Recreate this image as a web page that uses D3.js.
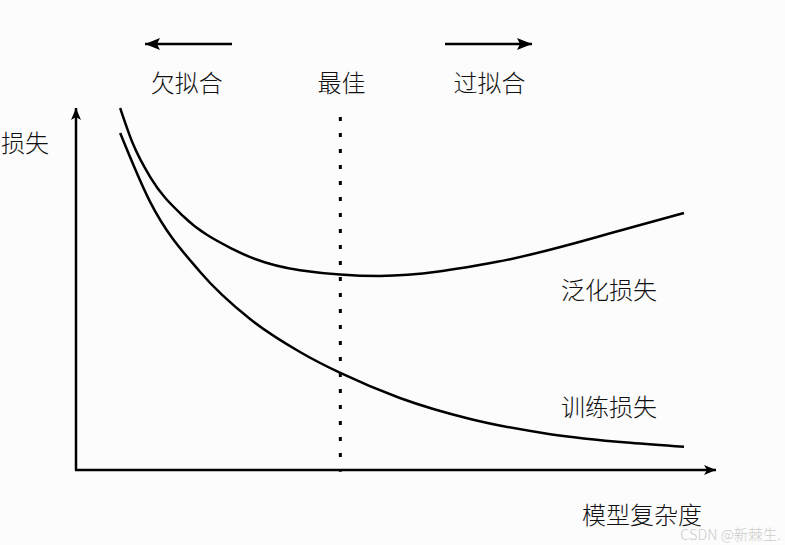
<html>
<head>
<script src="https://d3js.org/d3.v7.min.js"></script>
<style>
    body { margin: 0; background-color: #fcfcfc; }
    svg { display: block; }
</style>
</head>
<body>
<svg width="785" height="545"></svg>
<script>
// model complexity (0-100) vs loss (0-100)
var genX = [6.9, 8.9, 11.6, 16.7, 24.5, 35.0, 47.5, 65.8, 86.6, 95.0];
var genY = [100.0, 90.1, 80.9, 70.2, 61.0, 55.2, 53.6, 57.5, 66.9, 71.0];
var trainX = [6.9, 11.6, 19.4, 27.2, 35.0, 41.3, 50.6, 61.6, 74.1, 86.6, 95.0];
var trainY = [93.1, 74.0, 54.7, 41.7, 32.6, 26.8, 19.9, 14.1, 9.9, 7.5, 6.4];
var bestX = 41.3;
var topLabels = ["欠拟合", "最佳", "过拟合"];
var topLabelX = [17.3, 41.5, 64.6];

var svg = d3.select("svg");
var font = "'Noto Sans CJK SC', sans-serif";

var x = d3.scaleLinear().domain([0, 100]).range([76, 716]);
var y = d3.scaleLinear().domain([0, 100]).range([470, 108]);

var defs = svg.append("defs");
function arrowMarker(id, len, wid) {
    defs.append("marker")
        .attr("id", id)
        .attr("markerUnits", "userSpaceOnUse")
        .attr("viewBox", "0 0 " + len + " " + wid)
        .attr("refX", len).attr("refY", wid / 2)
        .attr("markerWidth", len).attr("markerHeight", wid)
        .attr("orient", "auto")
        .append("path")
        .attr("d", "M0,0L" + len + "," + (wid / 2) + "L0," + wid + "L3," + (wid / 2) + "Z")
        .attr("fill", "#000");
}
arrowMarker("axisArrow", 12, 10);
arrowMarker("bigArrow", 15, 12);

// axes
svg.append("line")
    .attr("x1", x(0)).attr("y1", y(0)).attr("x2", x(0)).attr("y2", y(100))
    .attr("stroke", "#000").attr("stroke-width", 2.5)
    .attr("marker-end", "url(#axisArrow)");
svg.append("line")
    .attr("x1", x(0) - 1).attr("y1", y(0)).attr("x2", x(100)).attr("y2", y(0))
    .attr("stroke", "#000").attr("stroke-width", 2.5)
    .attr("marker-end", "url(#axisArrow)");

// dotted "best" line
svg.append("line")
    .attr("x1", x(bestX)).attr("y1", y(97.5)).attr("x2", x(bestX)).attr("y2", y(-0.5))
    .attr("stroke", "#000").attr("stroke-width", 3)
    .attr("stroke-dasharray", "4,12");

var line = d3.line()
    .x(function(d) { return x(d[0]); })
    .y(function(d) { return y(d[1]); })
    .curve(d3.curveMonotoneX);

svg.append("path")
    .datum(d3.zip(genX, genY))
    .attr("fill", "none").attr("stroke", "#000").attr("stroke-width", 2.5)
    .attr("d", line);
svg.append("path")
    .datum(d3.zip(trainX, trainY))
    .attr("fill", "none").attr("stroke", "#000").attr("stroke-width", 2.5)
    .attr("d", line);

// direction arrows
svg.append("line")
    .attr("x1", 232).attr("y1", 44).attr("x2", 145).attr("y2", 44)
    .attr("stroke", "#000").attr("stroke-width", 2.5)
    .attr("marker-end", "url(#bigArrow)");
svg.append("line")
    .attr("x1", 445).attr("y1", 44).attr("x2", 532).attr("y2", 44)
    .attr("stroke", "#000").attr("stroke-width", 2.5)
    .attr("marker-end", "url(#bigArrow)");

// labels
svg.selectAll(".top").data(topLabels).enter().append("text")
    .attr("x", function(d, i) { return x(topLabelX[i]); })
    .attr("y", 81)
    .attr("text-anchor", "middle").attr("dominant-baseline", "central")
    .style("font", "300 24px " + font).attr("fill", "#111")
    .text(function(d) { return d; });

function label(txt, px, py, anchor) {
    svg.append("text")
        .attr("x", px).attr("y", py)
        .attr("text-anchor", anchor).attr("dominant-baseline", "central")
        .style("font", "300 24px " + font).attr("fill", "#111")
        .text(txt);
}
label("损失", 1, 141, "start");
label("泛化损失", 561, 288, "start");
label("训练损失", 561, 405, "start");
label("模型复杂度", 582, 513, "start");

svg.append("text")
    .attr("x", 781).attr("y", 533)
    .attr("text-anchor", "end").attr("dominant-baseline", "central")
    .style("font", "300 14.5px " + font).attr("fill", "#cccccc")
    .text("CSDN @新棘生.");
</script>
</body>
</html>
